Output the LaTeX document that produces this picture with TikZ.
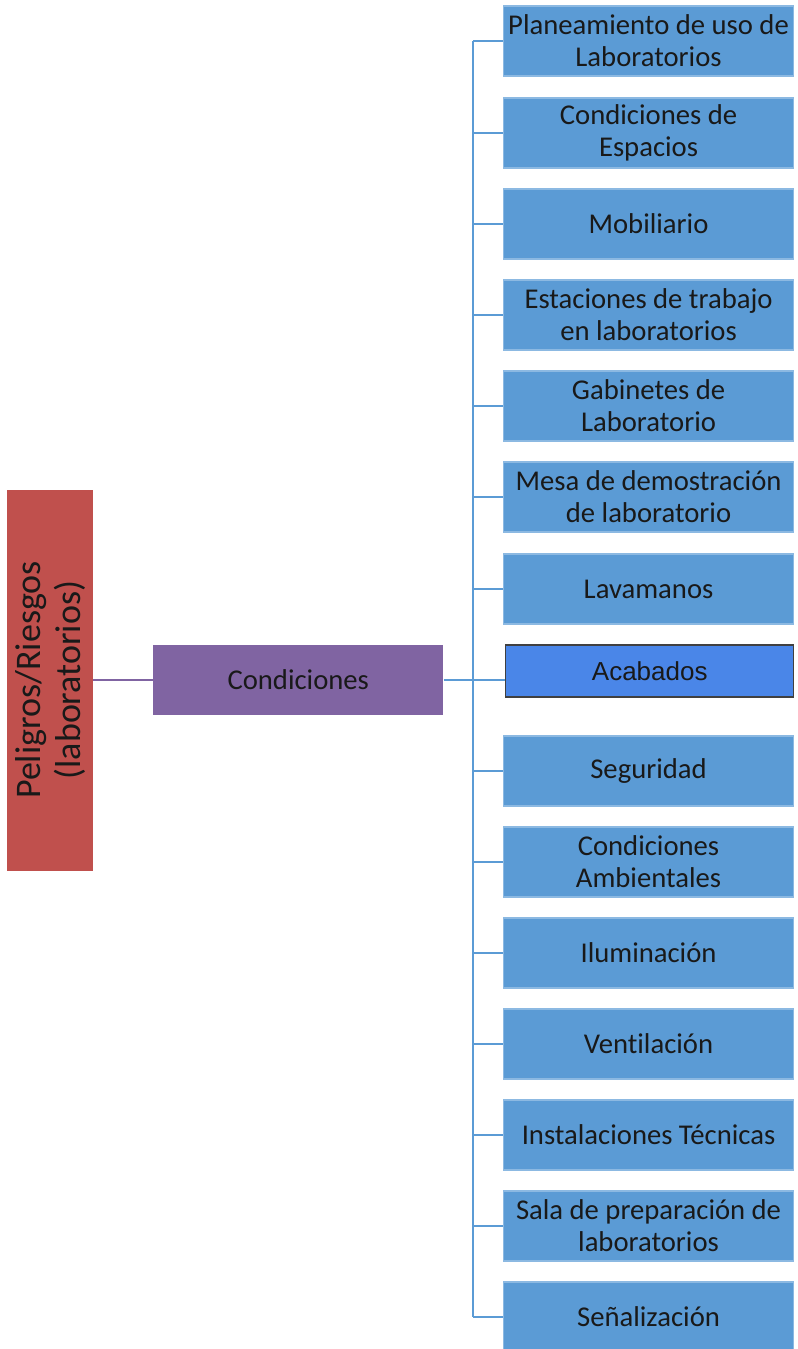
\documentclass[tikz,border=0pt]{standalone}
\usepackage{fontspec}
\setmainfont{Carlito}[Ligatures=NoCommon]
\newfontfamily\arialfont{Liberation Sans}
\usetikzlibrary{positioning}

\definecolor{riskred}{HTML}{C0504D}
\definecolor{condpurple}{HTML}{8064A2}
\definecolor{itemblue}{HTML}{5B9BD5}
\definecolor{acabblue}{HTML}{4A86E8}

\begin{document}
\begin{tikzpicture}[x=0.75pt, y=-0.75pt,
	every node/.style={font=\fontsize{21.5}{24}\selectfont, text=black!90, inner sep=0pt},
	itembox/.style={fill=itemblue, draw=itemblue!70!white, line width=0.8pt, minimum width=217.5pt, minimum height=52.5pt, align=center, anchor=west},
	bline/.style={draw=itemblue, line width=1.3pt},
	pline/.style={draw=condpurple, line width=1.3pt}]
	
	% Page frame
	\useasboundingbox (0,0) rectangle (797,1349);
	
	% Root (rotated)
	\node[fill=riskred, minimum width=64.5pt, minimum height=285.75pt, align=center] (risk) at (50,680) {};
	\node[rotate=90, align=center, font=\fontsize{27}{30}\selectfont] (risklbl) at (risk.center) {Peligros/Riesgos\\(laboratorios)};
	
	% Middle level
	\node[fill=condpurple, minimum width=217.5pt, minimum height=52.5pt, anchor=west] (cond) at (153,680) {Condiciones};
	\draw[pline] (risk.east) -- (cond.west);
	
	% Right column
	\node[itembox] (c1) at (503,41) {Planeamiento de uso de\\Laboratorios};
	\node[itembox] (c2) at (503,133) {Condiciones de\\Espacios};
	\node[itembox] (c3) at (503,224) {Mobiliario};
	\node[itembox] (c4) at (503,315) {Estaciones de trabajo\\en laboratorios};
	\node[itembox] (c5) at (503,406) {Gabinetes de\\Laboratorio};
	\node[itembox] (c6) at (503,497) {Mesa de demostración\\de laboratorio};
	\node[itembox] (c7) at (503,589) {Lavamanos};
	\node[fill=acabblue, draw=black!75, line width=1.1pt, minimum width=216pt, minimum height=39pt, anchor=west,
		font=\arialfont\fontsize{19.5}{22}\selectfont] (c8) at (505,671) {Acabados};
	\node[itembox] (c9) at (503,771) {Seguridad};
	\node[itembox] (c10) at (503,862) {Condiciones\\Ambientales};
	\node[itembox] (c11) at (503,953) {Iluminación};
	\node[itembox] (c12) at (503,1044) {Ventilación};
	\node[itembox] (c13) at (503,1135) {Instalaciones Técnicas};
	\node[itembox] (c14) at (503,1226) {Sala de preparación de\\laboratorios};
	\node[itembox] (c15) at (503,1317) {Señalización};
	
	% Trunk and branches
	\coordinate (trunk) at (473,680);
	\draw[bline] (trunk |- c1.west) -- (trunk |- c15.west);
	\draw[bline] (cond.east) -- (cond.east -| c8.west);
	\foreach \i in {1,2,3,4,5,6,7,9,10,11,12,13,14,15}
		\draw[bline] (trunk |- c\i.west) -- (c\i.west);
	
\end{tikzpicture}
\end{document}
